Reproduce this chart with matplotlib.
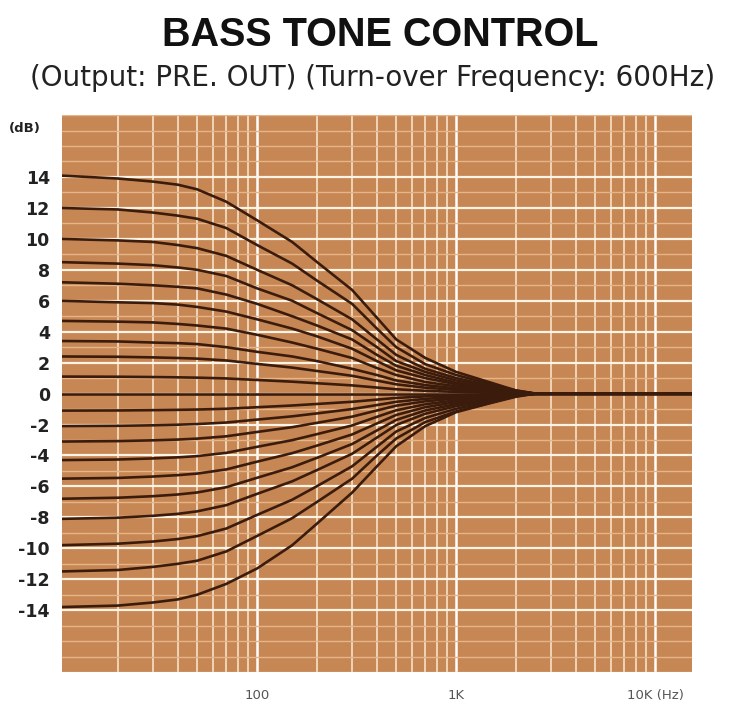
import matplotlib.pyplot as plt
from matplotlib.ticker import LogLocator, MultipleLocator, NullFormatter

freqs = [10, 20, 30, 40, 50, 70, 100, 150, 200, 300, 400, 500, 700, 1000, 1500, 2000, 2500, 20000]

# response curves in dB, one row per tone-control step (top to bottom)
curves = [
    [14.1, 13.9, 13.7, 13.5, 13.2, 12.4, 11.2, 9.8, 8.5, 6.7, 4.9, 3.5, 2.3, 1.4, 0.7, 0.2, 0, 0],
    [12.0, 11.9, 11.7, 11.5, 11.3, 10.7, 9.6, 8.4, 7.3, 5.8, 4.2, 3.0, 1.9, 1.2, 0.6, 0.2, 0, 0],
    [10.0, 9.9, 9.8, 9.6, 9.4, 8.9, 8.0, 7.0, 6.1, 4.8, 3.5, 2.5, 1.6, 1.0, 0.5, 0.15, 0, 0],
    [8.5, 8.4, 8.3, 8.15, 8.0, 7.6, 6.8, 6.0, 5.2, 4.1, 3.0, 2.1, 1.4, 0.85, 0.4, 0.1, 0, 0],
    [7.2, 7.1, 7.0, 6.9, 6.8, 6.4, 5.8, 5.0, 4.4, 3.5, 2.5, 1.8, 1.2, 0.7, 0.35, 0.1, 0, 0],
    [6.0, 5.9, 5.85, 5.75, 5.6, 5.3, 4.8, 4.2, 3.7, 2.9, 2.1, 1.5, 1.0, 0.6, 0.3, 0.1, 0, 0],
    [4.7, 4.65, 4.6, 4.5, 4.4, 4.2, 3.8, 3.3, 2.9, 2.3, 1.65, 1.2, 0.75, 0.47, 0.23, 0.07, 0, 0],
    [3.4, 3.37, 3.3, 3.26, 3.2, 3.0, 2.7, 2.4, 2.1, 1.6, 1.2, 0.85, 0.55, 0.34, 0.17, 0.05, 0, 0],
    [2.4, 2.38, 2.34, 2.3, 2.26, 2.14, 1.92, 1.68, 1.46, 1.15, 0.84, 0.6, 0.38, 0.24, 0.12, 0.04, 0, 0],
    [1.1, 1.09, 1.07, 1.05, 1.03, 0.98, 0.88, 0.77, 0.67, 0.53, 0.39, 0.28, 0.18, 0.11, 0.06, 0.02, 0, 0],
    [0, 0, 0, 0, 0, 0, 0, 0, 0, 0, 0, 0, 0, 0, 0, 0, 0, 0],
    [-1.1, -1.09, -1.07, -1.05, -1.03, -0.98, -0.88, -0.77, -0.67, -0.53, -0.39, -0.28, -0.18, -0.11, -0.06, -0.02, 0, 0],
    [-2.1, -2.08, -2.05, -2.01, -1.97, -1.87, -1.68, -1.47, -1.28, -1.0, -0.74, -0.53, -0.34, -0.21, -0.1, -0.03, 0, 0],
    [-3.1, -3.07, -3.02, -2.97, -2.91, -2.76, -2.48, -2.17, -1.89, -1.49, -1.09, -0.78, -0.5, -0.31, -0.16, -0.05, 0, 0],
    [-4.3, -4.26, -4.19, -4.12, -4.04, -3.83, -3.44, -3.01, -2.62, -2.06, -1.5, -1.08, -0.69, -0.43, -0.22, -0.06, 0, 0],
    [-5.5, -5.45, -5.36, -5.27, -5.17, -4.9, -4.4, -3.85, -3.36, -2.64, -1.93, -1.38, -0.88, -0.55, -0.28, -0.08, 0, 0],
    [-6.8, -6.73, -6.63, -6.52, -6.39, -6.05, -5.44, -4.76, -4.15, -3.26, -2.38, -1.7, -1.09, -0.68, -0.34, -0.1, 0, 0],
    [-8.1, -8.02, -7.9, -7.77, -7.61, -7.21, -6.48, -5.67, -4.94, -3.89, -2.84, -2.03, -1.3, -0.81, -0.41, -0.12, 0, 0],
    [-9.8, -9.7, -9.56, -9.4, -9.21, -8.72, -7.84, -6.86, -5.98, -4.7, -3.43, -2.45, -1.57, -0.98, -0.49, -0.15, 0, 0],
    [-11.5, -11.4, -11.2, -11.0, -10.8, -10.2, -9.2, -8.05, -7.0, -5.5, -4.0, -2.9, -1.84, -1.15, -0.58, -0.17, 0, 0],
    [-13.8, -13.7, -13.5, -13.3, -13.0, -12.3, -11.3, -9.8, -8.4, -6.4, -4.7, -3.4, -2.1, -1.2, -0.6, -0.2, 0, 0],
]

y_ticks = [14, 12, 10, 8, 6, 4, 2, 0, -2, -4, -6, -8, -10, -12, -14]
x_ticks = [100, 1000, 10000]
x_labels = ["100", "1K", "10K (Hz)"]

fig = plt.figure(figsize=(7.33, 7.06), dpi=100)
fig.patch.set_facecolor("white")
ax = fig.add_axes([0.085, 0.048, 0.859, 0.789])
ax.set_facecolor("#c68755")

ax.set_xscale("log")
ax.set_xlim(10.5, 15300)
ax.set_ylim(-18, 18)

# paper grid
ax.xaxis.set_minor_locator(LogLocator(base=10, subs=range(2, 10)))
ax.xaxis.set_minor_formatter(NullFormatter())
ax.yaxis.set_minor_locator(MultipleLocator(1))
ax.grid(which="major", axis="x", color="white", lw=1.8)
ax.grid(which="minor", axis="x", color="#fbe9d2", lw=1.1)
ax.grid(which="major", axis="y", color="#fff4e4", lw=1.6)
ax.grid(which="minor", axis="y", color="#e6b486", lw=1.0)
ax.set_axisbelow(True)

for row in curves:
    ax.plot(freqs, row, color="#3b1c0c", lw=1.9, solid_capstyle="round", solid_joinstyle="round")

ax.set_yticks(y_ticks)
ax.set_yticklabels([str(v) for v in y_ticks], fontsize=12.5, fontweight="bold", color="#222222")
ax.set_xticks(x_ticks)
ax.set_xticklabels(x_labels, fontsize=9.5, color="#555555")
ax.tick_params(axis="both", which="both", length=0)
ax.tick_params(axis="y", pad=9)
ax.tick_params(axis="x", pad=12)
for s in ax.spines.values():
    s.set_visible(False)

fig.text(0.518, 0.951, "BASS TONE CONTROL", ha="center", va="center",
         fontsize=28.5, fontweight="bold", family="Liberation Sans", color="#111111")
fig.text(0.508, 0.889, "(Output: PRE. OUT) (Turn-over Frequency: 600Hz)", ha="center", va="center",
         fontsize=20, family="DejaVu Sans", color="#222222")
fig.text(0.012, 0.818, "(dB)", ha="left", va="center", fontsize=9.5, fontweight="bold", color="#222222")

fig.savefig("out.png", dpi=100)
